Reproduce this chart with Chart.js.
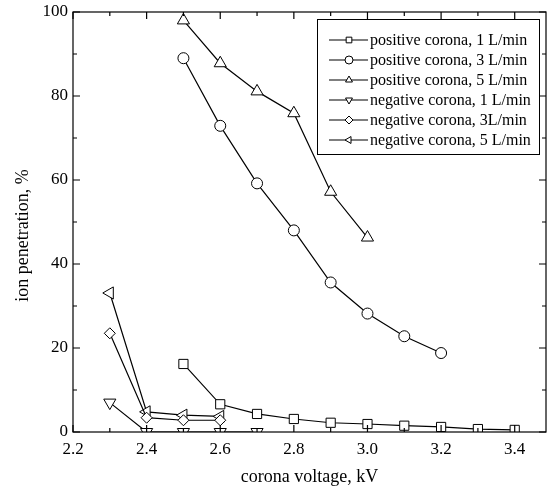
<!DOCTYPE html>
<html lang="en">
<head>
<meta charset="UTF-8">
<title>Ion penetration vs corona voltage</title>
<style>
  body { margin: 0; background: #fff; }
  #chart { display: block; }
</style>
<script src="https://cdn.jsdelivr.net/npm/chart.js"></script>
</head>
<body>
<canvas id="chart" width="547" height="490"></canvas>
<script>
// values
const pos1X = [2.5, 2.6, 2.7, 2.8, 2.9, 3.0, 3.1, 3.2, 3.3, 3.4];
const pos1Y = [16.2, 6.6, 4.3, 3.1, 2.2, 1.9, 1.5, 1.2, 0.7, 0.5];
const pos3X = [2.5, 2.6, 2.7, 2.8, 2.9, 3.0, 3.1, 3.2];
const pos3Y = [89.0, 72.9, 59.2, 48.0, 35.6, 28.2, 22.8, 18.8];
const pos5X = [2.5, 2.6, 2.7, 2.8, 2.9, 3.0];
const pos5Y = [98.0, 87.8, 81.1, 75.9, 57.2, 46.3];
const neg1X = [2.3, 2.4, 2.5, 2.6, 2.7];
const neg1Y = [7.0, 0, 0, 0, 0];
const neg3X = [2.3, 2.4, 2.5, 2.6];
const neg3Y = [23.5, 3.4, 2.8, 2.8];
const neg5X = [2.3, 2.4, 2.5, 2.6];
const neg5Y = [33.1, 4.8, 4.0, 3.7];

const labels = [
  'positive corona, 1 L/min',
  'positive corona, 3 L/min',
  'positive corona, 5 L/min',
  'negative corona, 1 L/min',
  'negative corona, 3L/min',
  'negative corona, 5 L/min'
];

const xMajor = [2.2, 2.4, 2.6, 2.8, 3.0, 3.2, 3.4];
const xMinor = [2.3, 2.5, 2.7, 2.9, 3.1, 3.3];
const yMajor = [0, 20, 40, 60, 80, 100];
const yMinor = [10, 30, 50, 70, 90];

const FONT = "'Liberation Serif', 'Times New Roman', serif";

function pts(xs, ys) {
  return xs.map((x, i) => ({ x: x, y: ys[i] }));
}

function series(label, xs, ys, style, radius, rotation) {
  return {
    label: label,
    data: pts(xs, ys),
    borderColor: '#000',
    borderWidth: 1.2,
    pointStyle: style,
    pointRotation: rotation || 0,
    pointRadius: radius,
    pointBorderWidth: 1,
    pointBorderColor: '#000',
    pointBackgroundColor: '#fff',
    tension: 0
  };
}

// frame plus inward ticks on all four sides
const frameTicks = {
  id: 'frameTicks',
  afterDatasetsDraw(chart) {
    const ctx = chart.ctx;
    const a = chart.chartArea;
    const xs = chart.scales.x, ys = chart.scales.y;
    ctx.save();
    ctx.strokeStyle = '#000';
    ctx.lineWidth = 1.2;
    ctx.strokeRect(a.left, a.top, a.right - a.left, a.bottom - a.top);
    function xt(v, len) {
      const px = xs.getPixelForValue(v);
      ctx.beginPath();
      ctx.moveTo(px, a.bottom); ctx.lineTo(px, a.bottom - len);
      ctx.moveTo(px, a.top); ctx.lineTo(px, a.top + len);
      ctx.stroke();
    }
    function yt(v, len) {
      const py = ys.getPixelForValue(v);
      ctx.beginPath();
      ctx.moveTo(a.left, py); ctx.lineTo(a.left + len, py);
      ctx.moveTo(a.right, py); ctx.lineTo(a.right - len, py);
      ctx.stroke();
    }
    xMajor.forEach(v => xt(v, 7));
    xMinor.forEach(v => xt(v, 4));
    yMajor.forEach(v => yt(v, 7));
    yMinor.forEach(v => yt(v, 4));
    ctx.restore();
  }
};

// boxed legend in the upper right corner
const boxLegend = {
  id: 'boxLegend',
  afterDraw(chart) {
    const ctx = chart.ctx;
    const a = chart.chartArea;
    const bx = a.right - 229, by = a.top + 7, bw = 222, bh = 135;
    ctx.save();
    ctx.fillStyle = '#fff';
    ctx.fillRect(bx, by, bw, bh);
    ctx.strokeStyle = '#000';
    ctx.lineWidth = 1;
    ctx.strokeRect(bx + 0.5, by + 0.5, bw, bh);
    ctx.font = '16px ' + FONT;
    ctx.textBaseline = 'middle';
    chart.data.datasets.forEach((ds, i) => {
      const cy = by + 21 + i * 20;
      ctx.beginPath();
      ctx.strokeStyle = '#000';
      ctx.lineWidth = 1.2;
      ctx.moveTo(bx + 12, cy);
      ctx.lineTo(bx + 51, cy);
      ctx.stroke();
      ctx.fillStyle = '#fff';
      ctx.lineWidth = 1;
      Chart.helpers.drawPoint(ctx, {
        pointStyle: ds.pointStyle,
        rotation: ds.pointRotation,
        radius: 4,
        borderWidth: 1
      }, bx + 32, cy);
      ctx.fillStyle = '#000';
      ctx.fillText(ds.label, bx + 53, cy + 1);
    });
    ctx.restore();
  }
};

const ctx = document.getElementById('chart').getContext('2d');
new Chart(ctx, {
  type: 'line',
  data: {
    datasets: [
      series(labels[0], pos1X, pos1Y, 'rect', 6.5),
      series(labels[1], pos3X, pos3Y, 'circle', 5.5),
      series(labels[2], pos5X, pos5Y, 'triangle', 7),
      series(labels[3], neg1X, neg1Y, 'triangle', 7, 180),
      series(labels[4], neg3X, neg3Y, 'rectRot', 5.5),
      series(labels[5], neg5X, neg5Y, 'triangle', 7, 270)
    ]
  },
  options: {
    responsive: false,
    animation: false,
    layout: { autoPadding: false, padding: { top: 12, right: 1, left: 0, bottom: 0 } },
    plugins: {
      legend: { display: false },
      tooltip: { enabled: false }
    },
    scales: {
      x: {
        type: 'linear',
        min: 2.2,
        max: 3.485,
        grid: { display: false, drawTicks: false },
        border: { display: false },
        afterBuildTicks: s => { s.ticks = xMajor.map(v => ({ value: v })); },
        afterFit: s => { s.height = 58; s.paddingLeft = 0; s.paddingRight = 0; },
        ticks: {
          color: '#000',
          padding: 7,
          font: { family: FONT, size: 17 },
          callback: v => Number(v).toFixed(1)
        },
        title: {
          display: true,
          text: 'corona voltage, kV',
          color: '#000',
          font: { family: FONT, size: 18 },
          padding: { top: 0, bottom: 2 }
        }
      },
      y: {
        min: 0,
        max: 100,
        grid: { display: false, drawTicks: false },
        border: { display: false },
        afterBuildTicks: s => { s.ticks = yMajor.map(v => ({ value: v })); },
        afterFit: s => { s.width = 73; s.paddingTop = 0; s.paddingBottom = 0; },
        ticks: {
          color: '#000',
          padding: 5,
          font: { family: FONT, size: 17 },
          callback: v => String(v)
        },
        title: {
          display: true,
          text: 'ion penetration, %\u00a0\u00a0\u00a0\u00a0\u00a0\u00a0',
          color: '#000',
          font: { family: FONT, size: 18 },
          padding: { top: 12, bottom: 0 }
        }
      }
    }
  },
  plugins: [frameTicks, boxLegend]
});
</script>
</body>
</html>
